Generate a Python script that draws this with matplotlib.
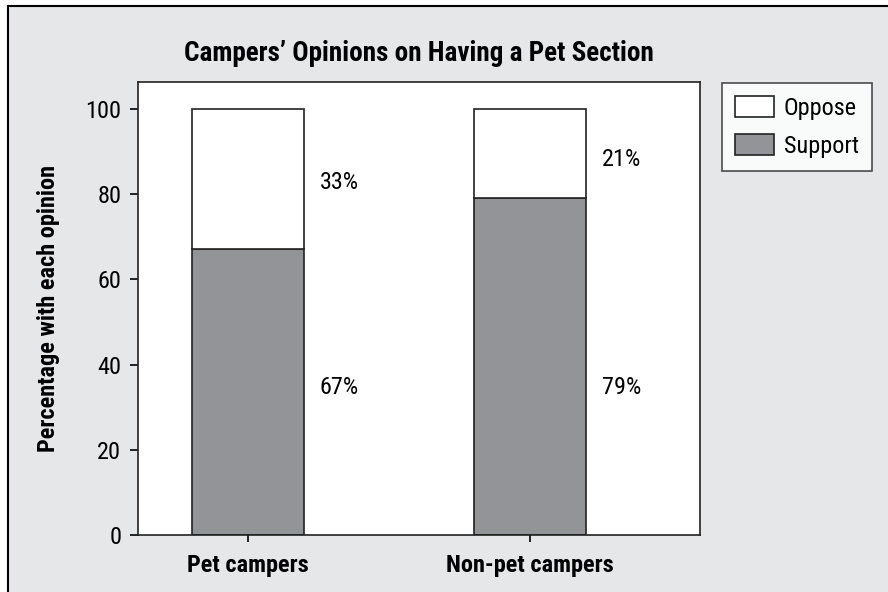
import matplotlib
matplotlib.use("Agg")
from matplotlib import pyplot as plt
from matplotlib.patches import Rectangle
import numpy as np

plt.rcParams['font.family'] = ['Roboto Condensed', 'DejaVu Sans']

# data
groups = ['Pet campers', 'Non-pet campers']
support = [67, 79]
oppose = [33, 21]
yticks = [0, 20, 40, 60, 80, 100]

# label heights (text placement only)
support_label_y = [34.6, 34.6]
oppose_label_y = [82.7, 88.0]

bg = '#e6e7e9'
grey = '#939498'
fs = 17.5

fig = plt.figure(figsize=(8.88, 5.92), dpi=100, facecolor='white')

# outer framed panel (cropped at right / bottom)
fig.patches.append(Rectangle((8/888, -0.05), 1.0, 1 - 6/592 + 0.05,
                             transform=fig.transFigure, facecolor=bg,
                             edgecolor='black', linewidth=1.5, zorder=-10))

ax = fig.add_axes([138/888, 1 - 535/592, 562/888, 453/592])
x = np.arange(len(groups))
w = 0.4
b1 = ax.bar(x, support, w, color=grey, edgecolor='#222222', linewidth=1.2, label='Support')
b2 = ax.bar(x, oppose, w, bottom=support, color='white', edgecolor='#222222', linewidth=1.2, label='Oppose')

for i in range(len(groups)):
    ax.text(x[i] + w/2 + 0.055, support_label_y[i], f'{support[i]}%', fontsize=fs, va='center', ha='left')
    ax.text(x[i] + w/2 + 0.055, oppose_label_y[i], f'{oppose[i]}%', fontsize=fs, va='center', ha='left')

ax.set_xlim(-0.39, 1.603)
ax.set_ylim(0, 106.3)
ax.set_yticks(yticks)
ax.set_yticklabels([str(t) for t in yticks], fontsize=fs)
ax.set_xticks(x)
ax.set_xticklabels(groups, fontsize=fs, fontweight='bold')
ax.tick_params(axis='y', length=6, width=1.2, pad=6)
ax.tick_params(axis='x', length=5, width=1.2, pad=9)
for s in ax.spines.values():
    s.set_linewidth(1.2)
    s.set_color('#222222')

ax.set_ylabel('Percentage with each opinion', fontsize=fs, fontweight='bold', labelpad=18)
ax.set_title('Campers\u2019 Opinions on Having a Pet Section', fontsize=19.5, fontweight='bold', pad=15)

leg = fig.legend([b2, b1], ['Oppose', 'Support'], loc='upper left',
                 bbox_to_anchor=(722/888, 1 - 83/592), bbox_transform=fig.transFigure,
                 fontsize=fs, frameon=True, fancybox=False, edgecolor='#222222',
                 handlelength=1.6, handleheight=0.9, labelspacing=0.6,
                 handletextpad=0.4, borderpad=0.55, borderaxespad=0)
leg.get_frame().set_linewidth(1.2)
leg.get_frame().set_facecolor('white')

fig.savefig('out.png', dpi=100, facecolor=fig.get_facecolor())
